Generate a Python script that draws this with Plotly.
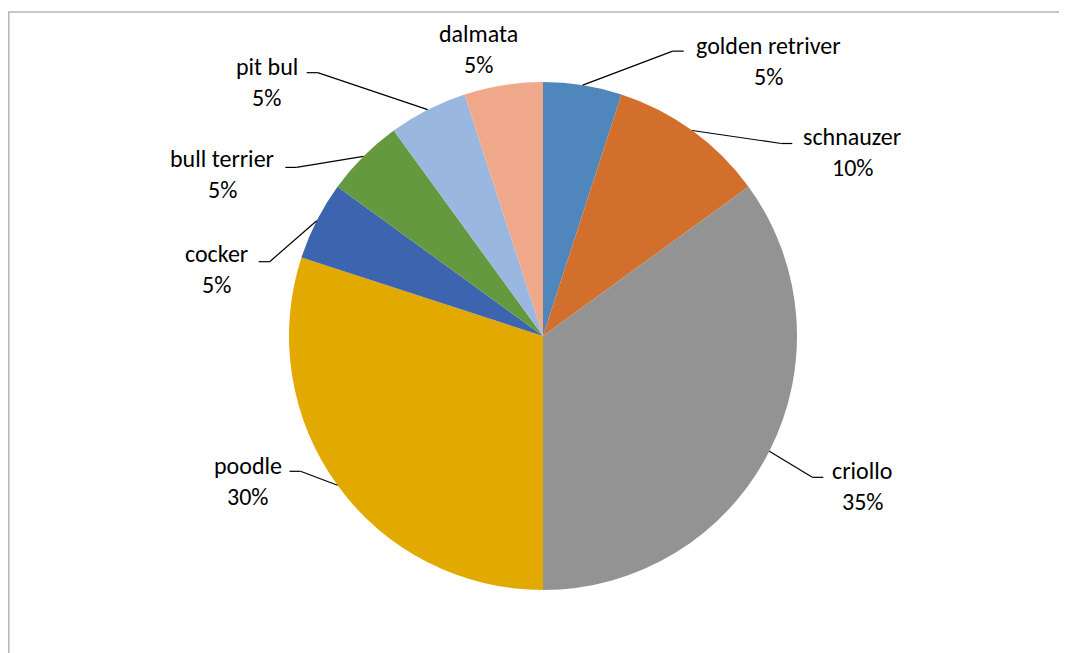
import math
import plotly.graph_objects as go

# ---- data ----
breeds = ["golden retriver", "schnauzer", "criollo", "poodle", "cocker",
          "bull terrier", "pit bul", "dalmata"]
shares = [5, 10, 35, 30, 5, 5, 5, 5]

# ---- style ----
colors = ["#4F87BC", "#D36F2C", "#939393", "#E2AA00", "#3D64AE",
          "#64993F", "#9AB8DF", "#F0A88A"]
W, H = 1067, 653
OFF = 8                                  # page body margin
CX, CY, R = 543 - OFF, 336 - OFF, 254    # pie centre / radius in figure pixels
# label-centre offsets and leader elbow offsets (pixels, relative to slice edge point)
label_off = [(186, -40), (160, 6), (93, 19), (-90, -20), (-100, 33),
             (-141, 2), (-161, -43), (-25, -52)]
elbow_off = [(90, -34), (89, 13), (43, 26), (-37, -14), (-47, 41),
             (-67, 11), (-110, -37), None]
LINE_GAP = 31
FONT = dict(family="Carlito, Calibri, Lato, sans-serif", size=24, color="#000000")

def px(x):
    return x / W

def py(y):
    return 1 - y / H

fig = go.Figure()
fig.add_trace(go.Pie(
    labels=breeds, values=shares, sort=False, direction="clockwise", rotation=0,
    marker=dict(colors=colors, line=dict(width=0)),
    textinfo="none", hoverinfo="label+percent", showlegend=False,
    domain=dict(x=[px(CX - R), px(CX + R)], y=[py(CY + R), py(CY - R)]),
))

total = sum(shares)
cum = 0
shapes = []
annotations = []
for i, (name, v) in enumerate(zip(breeds, shares)):
    mid = (cum + v / 2) / total * 2 * math.pi
    cum += v
    ex = CX + R * math.sin(mid)
    ey = CY - R * math.cos(mid)
    lx, ly = ex + label_off[i][0], ey + label_off[i][1]
    pct = f"{round(v / total * 100)}%"
    annotations.append(dict(x=px(lx), y=py(ly), xref="paper", yref="paper",
                            text=name, showarrow=False, xanchor="center",
                            yanchor="middle", font=FONT))
    annotations.append(dict(x=px(lx), y=py(ly + LINE_GAP), xref="paper", yref="paper",
                            text=pct, showarrow=False, xanchor="center",
                            yanchor="middle", font=FONT))
    if elbow_off[i] is not None:
        bx, by = ex + elbow_off[i][0], ey + elbow_off[i][1]
        sign = 1 if elbow_off[i][0] > 0 else -1
        shapes.append(dict(type="line", xref="paper", yref="paper",
                           x0=px(ex), y0=py(ey), x1=px(bx), y1=py(by),
                           line=dict(color="#000000", width=1.2)))
        shapes.append(dict(type="line", xref="paper", yref="paper",
                           x0=px(bx), y0=py(by), x1=px(bx + sign * 11), y1=py(by),
                           line=dict(color="#000000", width=1.2)))

# chart frame (partly outside the visible area)
shapes.append(dict(type="rect", xref="paper", yref="paper",
                   x0=px(0.8), y0=-0.05, x1=1.05, y1=py(12 - OFF),
                   line=dict(color="#B4B4B4", width=1.5), fillcolor="rgba(0,0,0,0)",
                   layer="below"))

fig.update_layout(
    width=W, height=H, margin=dict(l=0, r=0, t=0, b=0),
    paper_bgcolor="#FFFFFF", plot_bgcolor="#FFFFFF",
    shapes=shapes, annotations=annotations,
)
fig.write_html("out.html")
